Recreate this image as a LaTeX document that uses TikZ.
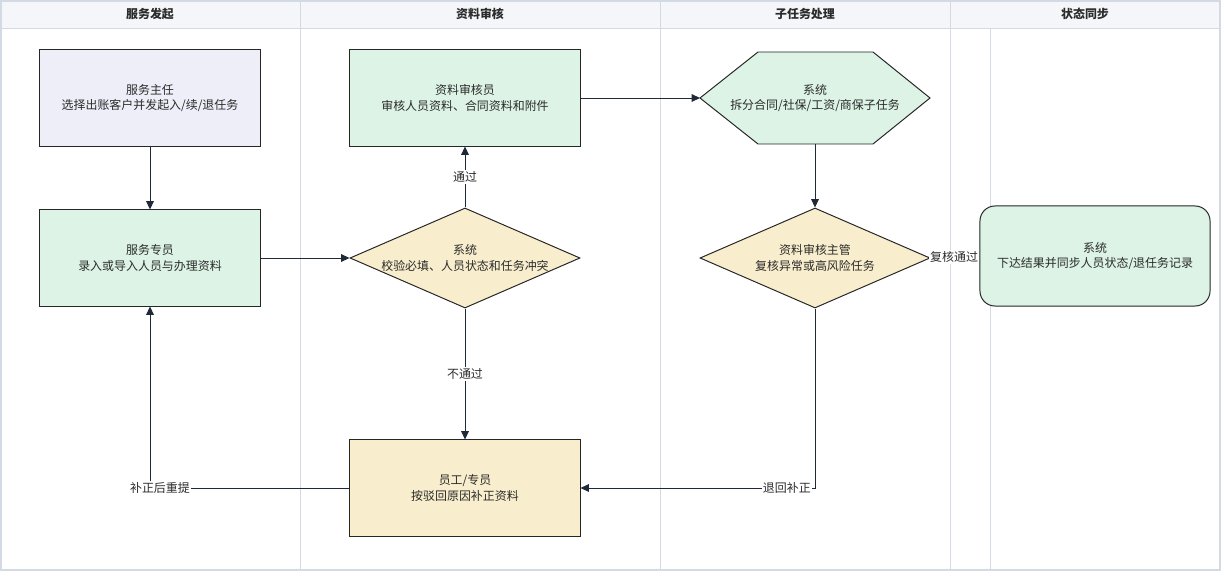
\documentclass[tikz,border=0pt]{standalone}
\usepackage{fontspec}
\setmainfont{Noto Sans CJK SC}
\usetikzlibrary{shapes.geometric,arrows.meta}

\definecolor{raia}{HTML}{D3DAE3}
\definecolor{cabecfundo}{HTML}{F4F6FA}
\definecolor{texto}{HTML}{2B2B2B}
\definecolor{roxo}{HTML}{EEEEF9}
\definecolor{verde}{HTML}{DCF3E5}
\definecolor{amarelo}{HTML}{F8EDCC}
\definecolor{seta}{HTML}{1F2937}

\tikzset{
  caixa/.style={draw=black!85, line width=0.7pt, minimum width=5.75cm, minimum height=2.4cm,
    align=center, text=texto, font=\fontsize{8.5}{11}\selectfont},
  losango/.style={diamond, draw=black!85, line width=0.7pt, fill=amarelo, inner sep=0pt,
    minimum width=5.75cm, minimum height=2.5cm},
  texto losango/.style={align=center, text=texto, font=\fontsize{8.5}{11}\selectfont},
  cabec/.style={text=texto, font=\bfseries\fontsize{8.5}{10}\selectfont},
  conector/.style={draw=seta, line width=0.7pt, -{Triangle[length=6pt,width=5.5pt]}},
  rotulo/.style={fill=white, inner sep=1pt, text=texto, font=\fontsize{8.5}{10}\selectfont}
}

\begin{document}
\begin{tikzpicture}[x=0.025cm, y=-0.025cm]
		\useasboundingbox (0,0) rectangle (1221,571);
		% Raias
		\fill[cabecfundo] (0,0) rectangle (1221,28);
		\draw[raia, line width=0.8pt] (1,1) rectangle (1220,570);
		\draw[raia, line width=0.6pt] (0,28) -- (1221,28);
		\foreach \x in {300,660,950}
			\draw[raia, line width=0.6pt] (\x,0) -- (\x,570);
		\draw[raia, line width=0.6pt] (990,28) -- (990,570);
		\node[cabec] (h1) at (150,14) {服务发起};
		\node[cabec] (h2) at (480,14) {资料审核};
		\node[cabec] (h3) at (805,14) {子任务处理};
		\node[cabec] (h4) at (1085,14) {状态同步};
		
		% Caixas
		\node[caixa, fill=roxo, minimum width=5.5cm] (A) at (150,98) {服务主任\\选择出账客户并发起入/续/退任务};
		\node[caixa, fill=verde, minimum width=5.5cm] (B) at (150,258) {服务专员\\录入或导入人员与办理资料};
		\node[caixa, fill=verde] (C) at (465,98) {资料审核员\\审核人员资料、合同资料和附件};
		\node[losango, label={[texto losango]center:{系统\\校验必填、人员状态和任务冲突}}] (D) at (465,258) {};
		\node[caixa, fill=amarelo] (E) at (465,488) {员工/专员\\按驳回原因补正资料};
		\filldraw[draw=black!85, line width=0.7pt, fill=verde] (758,52) -- (873,52) -- (930,98) -- (873,144) -- (758,144) -- (700,98) -- cycle; % Hexagono
		\node[caixa, draw=none, minimum height=2.3cm, outer sep=0pt] (F) at (815,98) {系统\\拆分合同/社保/工资/商保子任务};
		\node[losango, label={[texto losango]center:{资料审核主管\\复核异常或高风险任务}}] (G) at (815,258) {};
		\node[caixa, fill=verde, rounded corners=0.375cm, minimum height=2.5cm] (H) at (1095,256) {系统\\下达结果并同步人员状态/退任务记录};
		
		% Setas
		\draw[conector] (A) -- (B);
		\draw[conector] (B) -- (D);
		\draw[conector] (D) -- node[rotulo] {通过} (C);
		\draw[conector] (D) -- node[rotulo] {不通过} (E);
		\draw[conector] (C) -- (F);
		\draw[conector] (F) -- (G);
		\draw[conector] (G) -- node[rotulo] {复核通过} (H);
		\draw[conector] (G.south) |- node[rotulo, pos=0.56] {退回补正} (E.east);
		\draw[conector] (E.west) -| node[rotulo, pos=0.475] {补正后重提} (B.south);
	\end{tikzpicture}
\end{document}
